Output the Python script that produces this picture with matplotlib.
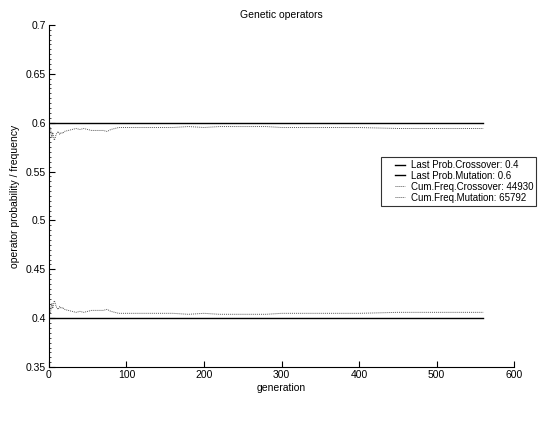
import matplotlib
matplotlib.use("Agg")
import matplotlib.pyplot as plt
import numpy as np
from matplotlib.ticker import MultipleLocator
from matplotlib.legend_handler import HandlerLine2D

plt.rcParams['font.family'] = ['Liberation Sans', 'DejaVu Sans']

title = "Genetic operators"
xlabel = "generation"
ylabel = "operator probability / frequency"

last_gen = 560
last_prob_crossover = 0.4
last_prob_mutation = 0.6
cum_crossover_total = 44930
cum_mutation_total = 65792

gens = [2, 3, 4, 5, 6, 7, 8, 9, 10, 12, 14, 16, 18, 20, 25, 30, 35, 40, 45, 50,
        55, 60, 65, 70, 75, 80, 90, 100, 120, 140, 160, 180, 200, 220, 250, 280,
        300, 350, 400, 450, 500, 560]
freq_crossover = [0.405, 0.412, 0.415, 0.410, 0.414, 0.418, 0.416, 0.413, 0.411, 0.409,
                  0.412, 0.410, 0.411, 0.409, 0.408, 0.407, 0.406, 0.407, 0.406, 0.407,
                  0.408, 0.408, 0.408, 0.408, 0.409, 0.407, 0.405, 0.405, 0.405, 0.405,
                  0.405, 0.404, 0.405, 0.404, 0.404, 0.404, 0.405, 0.405, 0.405, 0.406,
                  0.406, 0.406]
freq_mutation = [0.595, 0.588, 0.585, 0.590, 0.586, 0.582, 0.584, 0.587, 0.589, 0.591,
                 0.588, 0.590, 0.589, 0.591, 0.592, 0.593, 0.594, 0.593, 0.594, 0.593,
                 0.592, 0.592, 0.592, 0.592, 0.591, 0.593, 0.595, 0.595, 0.595, 0.595,
                 0.595, 0.596, 0.595, 0.596, 0.596, 0.596, 0.595, 0.595, 0.595, 0.594,
                 0.594, 0.594]


class RightLine(HandlerLine2D):
    """Short legend line drawn at the right end of the handle box."""
    def create_artists(self, legend, orig_handle, xdescent, ydescent, width,
                       height, fontsize, trans):
        arts = super().create_artists(legend, orig_handle, xdescent, ydescent,
                                      width, height, fontsize, trans)
        x1 = -xdescent + width
        x0 = x1 - 7.5
        for a in arts:
            n = len(a.get_xdata())
            if n >= 2:
                a.set_xdata(np.linspace(x0, x1, n))
        return arts


fig = plt.figure(figsize=(5.43, 4.21), dpi=100)
ax = fig.add_axes([0.090, 0.128, 0.857, 0.813])

ax.plot([0, last_gen], [last_prob_crossover] * 2, color='black', lw=1.0,
        label=f"Last Prob.Crossover: {last_prob_crossover}")
ax.plot([0, last_gen], [last_prob_mutation] * 2, color='black', lw=1.0,
        label=f"Last Prob.Mutation: {last_prob_mutation}")
ax.plot(gens, freq_crossover, color='0.35', lw=0.7, ls=(0, (1, 1)),
        label=f"Cum.Freq.Crossover: {cum_crossover_total}")
ax.plot(gens, freq_mutation, color='0.35', lw=0.7, ls=(0, (1, 1)),
        label=f"Cum.Freq.Mutation: {cum_mutation_total}")

ax.set_xlim(0, 600)
ax.set_ylim(0.35, 0.7)
ax.xaxis.set_major_locator(MultipleLocator(100))
ax.yaxis.set_minor_locator(MultipleLocator(0.005))
ax.set_yticks([0.35, 0.4, 0.45, 0.5, 0.55, 0.6, 0.65, 0.7])
ax.set_yticklabels(['0.35', '0.4', '0.45', '0.5', '0.55', '0.6', '0.65', '0.7'])

for s in ['top', 'right']:
    ax.spines[s].set_visible(False)
for s in ['left', 'bottom']:
    ax.spines[s].set_linewidth(0.8)

ax.tick_params(axis='both', which='major', direction='in', length=4, width=0.8,
               labelsize=7.5, pad=2)
ax.tick_params(axis='y', which='minor', direction='in', length=1.5, width=0.5)

ax.set_title(title, fontsize=7.5, pad=5)
ax.set_xlabel(xlabel, fontsize=7.5, labelpad=2)
ax.set_ylabel(ylabel, fontsize=7.5, labelpad=4)

handles, labels = ax.get_legend_handles_labels()
leg = ax.legend(handles, labels, loc='upper left', bbox_to_anchor=(0.7017, 0.6271),
                bbox_transform=fig.transFigure, fontsize=7, frameon=True,
                fancybox=False, borderpad=0.3, labelspacing=0.1,
                handlelength=2.16, handletextpad=0.6, borderaxespad=0,
                handler_map={h: RightLine() for h in handles})
leg.get_frame().set_edgecolor('black')
leg.get_frame().set_linewidth(0.8)

fig.savefig("out.png", dpi=100)
